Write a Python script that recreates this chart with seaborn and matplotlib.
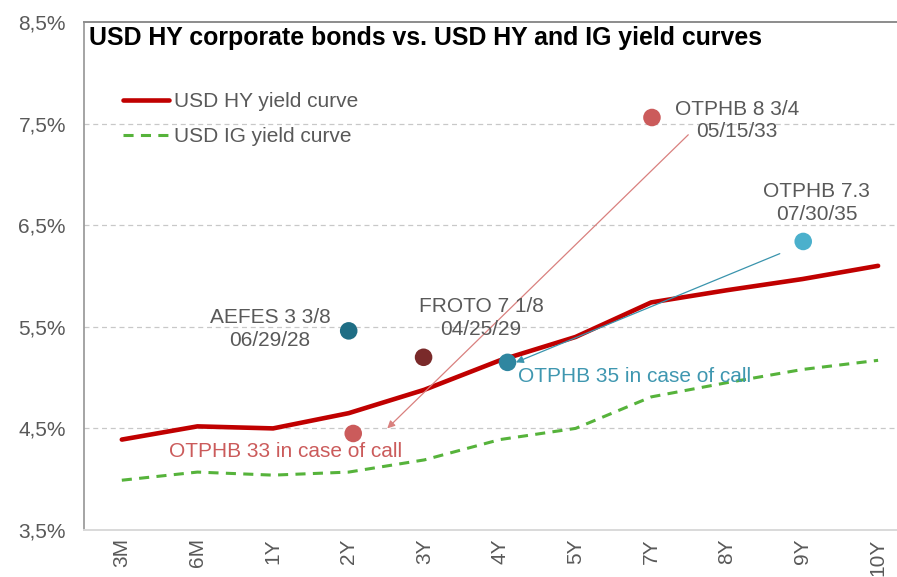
import numpy as np
import pandas as pd
import matplotlib
matplotlib.use("Agg")
import matplotlib.pyplot as plt
import seaborn as sns

# tenors on the x axis
tenors = ["3M", "6M", "1Y", "2Y", "3Y", "4Y", "5Y", "7Y", "8Y", "9Y", "10Y"]
hy_curve = [4.39, 4.52, 4.50, 4.65, 4.88, 5.17, 5.40, 5.74, 5.86, 5.97, 6.10]
ig_curve = [3.99, 4.07, 4.04, 4.07, 4.19, 4.39, 4.50, 4.81, 4.95, 5.08, 5.17]

# individual bonds (x = position on the tenor axis)
bond_names = ["AEFES 3 3/8", "FROTO 7 1/8", "OTPHB 33 call", "OTPHB 8 3/4",
              "OTPHB 35 call", "OTPHB 7.3"]
bond_x = [3.00, 3.99, 3.06, 7.01, 5.10, 9.01]
bond_y = [5.46, 5.20, 4.45, 7.56, 5.15, 6.34]
bond_colors = ["#1f6e85", "#7a2a2a", "#cb5b5b", "#cb5b5b", "#2f86a0", "#4bb0cc"]

GRAY = "#595959"
sns.set_theme(style="white")
plt.rcParams["font.family"] = ["Liberation Sans", "DejaVu Sans"]

pos = np.arange(len(tenors))
curves = pd.DataFrame({"pos": pos, "hy": hy_curve, "ig": ig_curve})
bonds = pd.DataFrame({"name": bond_names, "x": bond_x, "y": bond_y})

fig = plt.figure(figsize=(8.97, 5.77), dpi=100)
ax = fig.add_axes([84 / 897, 47 / 577, 1 - 84 / 897, 508 / 577])

sns.lineplot(data=curves, x="pos", y="hy", ax=ax, color="#c00000", lw=3.3,
             label="USD HY yield curve", zorder=3)
sns.lineplot(data=curves, x="pos", y="ig", ax=ax, color="#56b33b", lw=2.2,
             linestyle=(0, (3.3, 2.4)), label="USD IG yield curve", zorder=3)
sns.scatterplot(data=bonds, x="x", y="y", hue="name",
                palette=dict(zip(bond_names, bond_colors)), s=160,
                linewidth=0, legend=False, ax=ax, zorder=4)

# arrows pointing to the "in case of call" points
ax.annotate("", xy=(3.51, 4.50), xytext=(7.49, 7.39),
            arrowprops=dict(arrowstyle="-|>", color="#d9807e", lw=0.9,
                            mutation_scale=11, shrinkA=0, shrinkB=0))
ax.annotate("", xy=(5.21, 5.15), xytext=(8.70, 6.22),
            arrowprops=dict(arrowstyle="-|>", color="#3a94ad", lw=0.9,
                            mutation_scale=11, shrinkA=0, shrinkB=0))

fs = 15
ax.text(8.13, 7.53, "OTPHB 8 3/4\n05/15/33", ha="center", va="center",
        fontsize=fs, color=GRAY, linespacing=1.25)
ax.text(9.19, 6.72, "OTPHB 7.3\n07/30/35", ha="center", va="center",
        fontsize=fs, color=GRAY, linespacing=1.25)
ax.text(1.96, 5.48, "AEFES 3 3/8\n06/29/28", ha="center", va="center",
        fontsize=fs, color=GRAY, linespacing=1.25)
ax.text(4.75, 5.59, "FROTO 7 1/8\n04/25/29", ha="center", va="center",
        fontsize=fs, color=GRAY, linespacing=1.25)
ax.text(2.16, 4.27, "OTPHB 33 in case of call", ha="center", va="center",
        fontsize=fs, color="#cb5b5b")
ax.text(5.24, 5.01, "OTPHB 35 in case of call", ha="left", va="center",
        fontsize=fs, color="#3f97b0")

ax.set_xlim(-0.5, 10.25)
ax.set_ylim(3.5, 8.5)
ax.set_xticks(pos)
ax.set_xticklabels(tenors, rotation=90)
ax.set_yticks([3.5, 4.5, 5.5, 6.5, 7.5, 8.5])
ax.set_yticklabels(["3,5%", "4,5%", "5,5%", "6,5%", "7,5%", "8,5%"])
ax.tick_params(axis="y", length=0, pad=13, labelsize=fs, labelcolor=GRAY)
ax.tick_params(axis="x", length=0, pad=6, labelsize=fs, labelcolor=GRAY)
ax.set_xlabel("")
ax.set_ylabel("")

for yv in [4.5, 5.5, 6.5, 7.5]:
    ax.axhline(yv, color="#c8c8c8", lw=0.9, ls=(0, (4, 3)), zorder=1)

ax.spines["right"].set_visible(False)
ax.spines["top"].set_color("#8c8c8c")
ax.spines["top"].set_linewidth(1.4)
ax.spines["left"].set_color("#8c8c8c")
ax.spines["left"].set_linewidth(1.1)
ax.spines["bottom"].set_color("#d9d9d9")
ax.spines["bottom"].set_linewidth(1.4)

leg = ax.legend(loc="upper left", bbox_to_anchor=(31 / 813, 1 - 62 / 508),
                frameon=False, fontsize=fs, handlelength=2.2,
                handletextpad=0.25, labelspacing=0.75, borderaxespad=0)
for t in leg.get_texts():
    t.set_color(GRAY)

fig.text(89 / 897, 1 - 45 / 577,
         "USD HY corporate bonds vs. USD HY and IG yield curves",
         fontsize=17.9, fontweight="bold", color="black", va="baseline")

fig.savefig("out.png", dpi=100)
